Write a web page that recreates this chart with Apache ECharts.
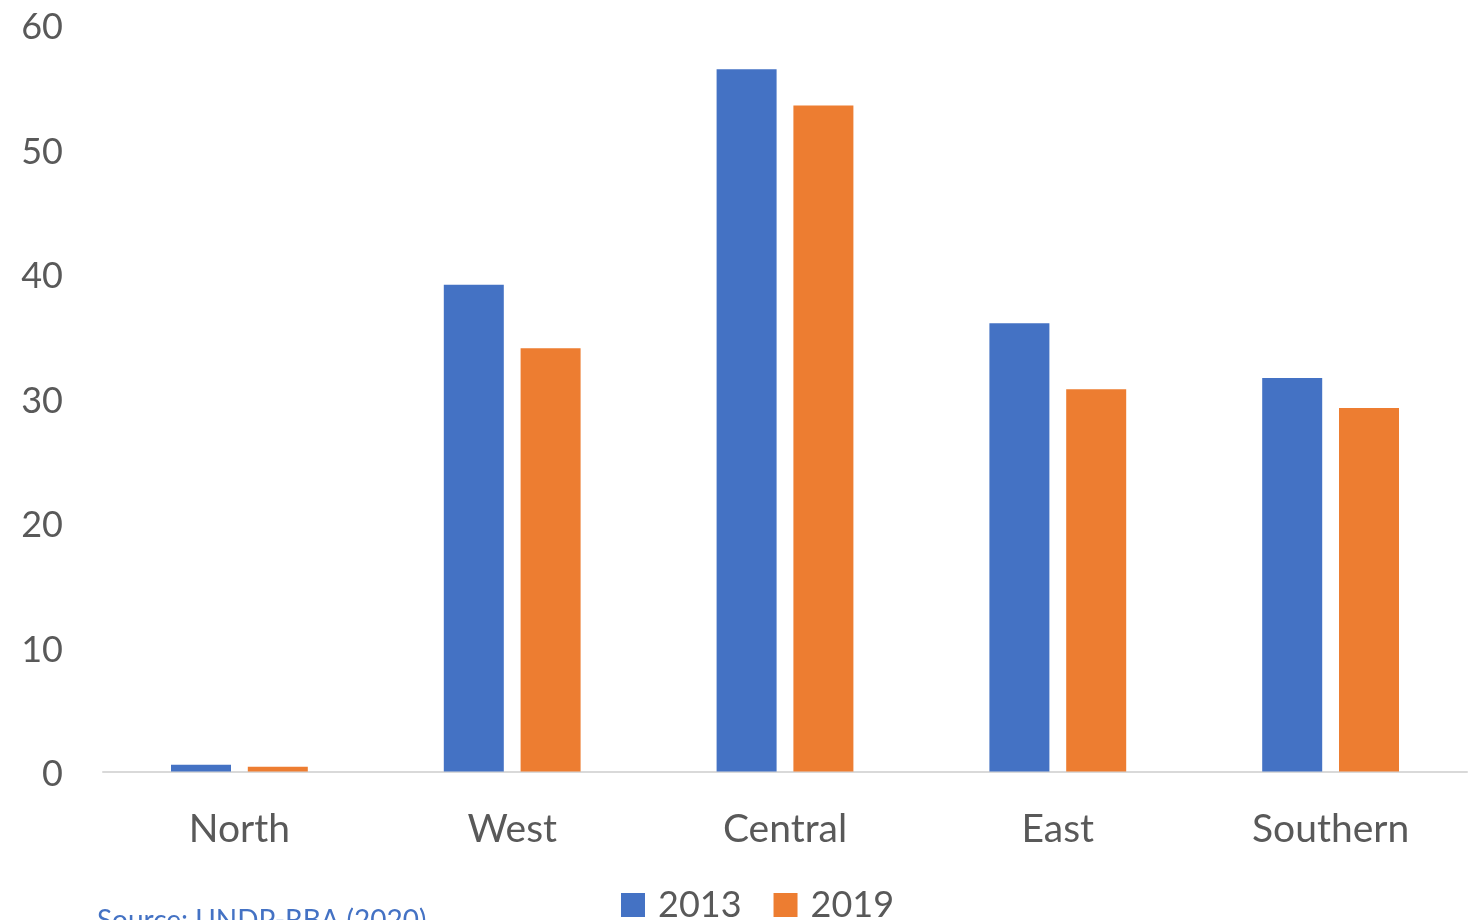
<!DOCTYPE html>
<html>
<head>
<meta charset="utf-8">
<title>Regional comparison 2013 vs 2019</title>
<script src="https://cdn.jsdelivr.net/npm/echarts@6/dist/echarts.min.js"></script>
<style>
  html, body { margin: 0; padding: 0; background: #ffffff; }
  #chart { width: 1468px; height: 920px; }
</style>
</head>
<body>
<div id="chart"></div>
<script>
// Regions along the category axis
const regions = ['North', 'West', 'Central', 'East', 'Southern'];
// Series values per region
const values2013 = [0.55, 39.1, 56.4, 36.0, 31.6];
const values2019 = [0.38, 34.0, 53.5, 30.7, 29.2];
const seriesNames = ['2013', '2019'];
const sourceNote = 'Source: UNDP-RBA (2020)';

const FONT = 'Lato';
const TEXT = '#595959';

const chart = echarts.init(document.getElementById('chart'), null, { renderer: 'canvas' });

chart.setOption({
  backgroundColor: '#ffffff',
  animation: false,
  grid: { left: 103, right: 1, top: 24.5, bottom: 148.5, containLabel: false },
  xAxis: {
    type: 'category',
    data: regions,
    axisLine: { show: true, lineStyle: { color: '#D9D9D9', width: 2 } },
    axisTick: { show: false },
    axisLabel: { color: TEXT, fontFamily: FONT, fontSize: 39, margin: 38 }
  },
  yAxis: {
    type: 'value',
    min: 0, max: 60, interval: 10,
    axisLine: { show: false },
    axisTick: { show: false },
    splitLine: { show: false },
    axisLabel: {
      margin: 40,
      formatter: '{t|{value}}',
      rich: { t: { color: TEXT, fontFamily: FONT, fontSize: 36, padding: [6, 0, 0, 0] } }
    }
  },
  legend: {
    data: seriesNames,
    left: 616, top: 882,
    itemWidth: 24, itemHeight: 24, itemGap: 32,
    icon: 'rect',
    textStyle: { color: TEXT, fontFamily: FONT, fontSize: 36, lineHeight: 36, padding: [0, 0, 0, 8] }
  },
  graphic: [{
    type: 'text',
    left: 97, top: 907,
    style: { text: sourceNote, fill: '#4472C4', font: '28px ' + FONT }
  }],
  series: [
    {
      name: seriesNames[0], type: 'bar', data: values2013,
      barWidth: 60, barGap: '28%',
      itemStyle: { color: '#4472C4' }
    },
    {
      name: seriesNames[1], type: 'bar', data: values2019,
      barWidth: 60, barGap: '28%',
      itemStyle: { color: '#ED7D31' }
    }
  ]
});
</script>
</body>
</html>
